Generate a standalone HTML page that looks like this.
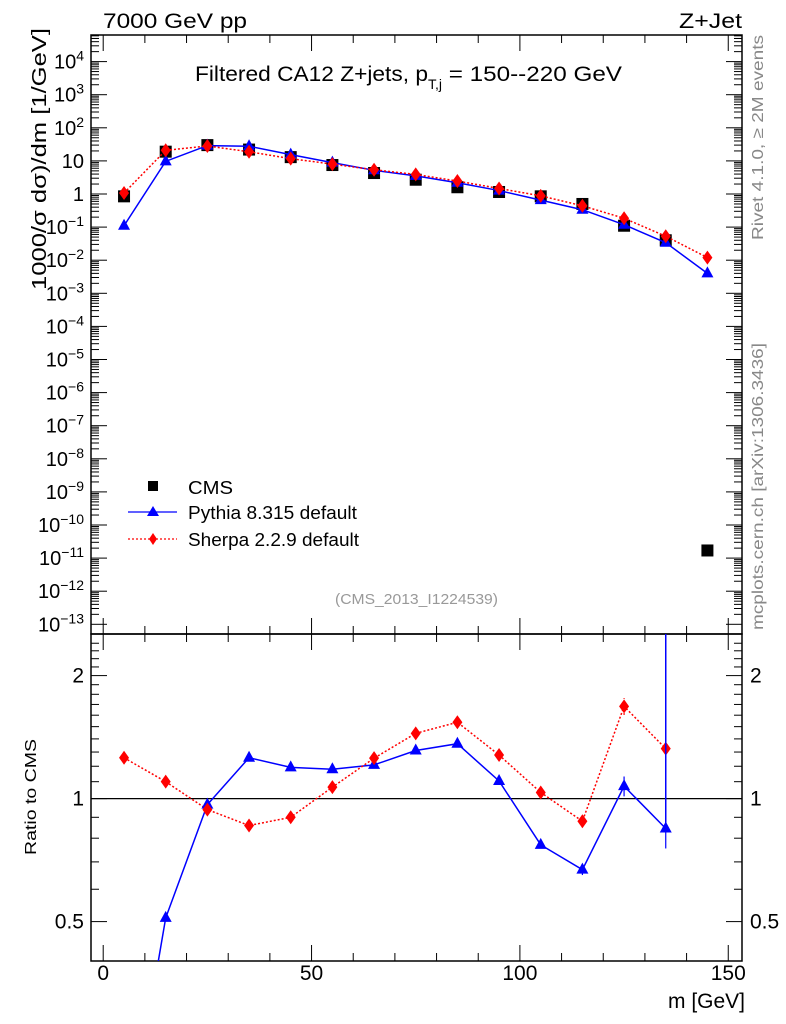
<!DOCTYPE html>
<html><head><meta charset="utf-8"><style>
body{margin:0;background:#fff;overflow:hidden;}
svg{display:block;font-family:"Liberation Sans",sans-serif;}
</style></head><body>
<svg id="c" width="786" height="1024" viewBox="0 0 786 1024" xmlns="http://www.w3.org/2000/svg">
<text x="103" y="28" font-size="21" textLength="144" lengthAdjust="spacingAndGlyphs">7000 GeV pp</text>
<text x="679" y="28" font-size="21" textLength="63" lengthAdjust="spacingAndGlyphs">Z+Jet</text>
<text x="195" y="81" font-size="21"><tspan textLength="233" lengthAdjust="spacingAndGlyphs">Filtered CA12 Z+jets, p</tspan><tspan font-size="14" dy="8">T,j</tspan><tspan dy="-8" textLength="180" lengthAdjust="spacingAndGlyphs"> = 150--220 GeV</tspan></text>
<text transform="translate(46,290) rotate(-90)" font-size="20" textLength="262" lengthAdjust="spacingAndGlyphs">1000/σ   dσ)/dm [1/GeV]</text>
<text transform="translate(763,240) rotate(-90)" font-size="16" fill="#888" textLength="205" lengthAdjust="spacingAndGlyphs">Rivet 4.1.0, ≥ 2M events</text>
<text transform="translate(763,630) rotate(-90)" font-size="16" fill="#888" textLength="287" lengthAdjust="spacingAndGlyphs">mcplots.cern.ch [arXiv:1306.3436]</text>
<text x="335" y="604" font-size="15" fill="#999" textLength="163" lengthAdjust="spacingAndGlyphs">(CMS_2013_I1224539)</text>
<text transform="translate(36,855) rotate(-90)" font-size="16" textLength="116" lengthAdjust="spacingAndGlyphs">Ratio to CMS</text>
<text x="668" y="1008" font-size="21" textLength="77" lengthAdjust="spacingAndGlyphs">m [GeV]</text>
<g>
<rect x="148" y="481" width="10" height="10" fill="#000"/>
<text x="188" y="494" font-size="18" textLength="45" lengthAdjust="spacingAndGlyphs">CMS</text>
<line x1="128" y1="512" x2="177" y2="512" stroke="#00f" stroke-width="1.3"/>
<polygon points="153,506 159,516 147,516" fill="#00f"/>
<text x="188" y="519" font-size="18" textLength="169" lengthAdjust="spacingAndGlyphs">Pythia 8.315 default</text>
<line x1="128" y1="539" x2="177" y2="539" stroke="#f00" stroke-width="1.3" stroke-dasharray="2,2"/>
<polygon points="153,533 157,539 153,545 149,539" fill="#f00"/>
<text x="188" y="546" font-size="18" textLength="171" lengthAdjust="spacingAndGlyphs">Sherpa 2.2.9 default</text>
</g>
<g id="g"></g>
</svg>
<script>
const mass=[5,15,25,35,45,55,65,75,85,95,105,115,125,135,145];
const cmsVals=[0.85,19,30,22,13,7.5,4.3,2.7,1.6,1.15,0.85,0.5,0.11,0.04,1.7e-11];
const pythiaVals=[0.11,9.7,29,27.7,15.5,8.85,5.2,3.54,2.18,1.27,0.655,0.335,0.118,0.0338,0.004];
const sherpaVals=[1.07,20.9,28.2,18.9,11.7,8.0,5.4,3.9,2.46,1.47,0.88,0.44,0.185,0.053,0.012];
const pythiaRatioErr=[0,0,0,0,0,0,0,0,0,0,0.01,0.02,0.06,0.09,0];
const sherpaRatioErr=[0,0,0,0,0,0,0,0,0,0,0,0.03,0.08,0.15,0];
const xTicks=[0,50,100,150];
const ratioTicks=[0.5,1,2];
const NS="http://www.w3.org/2000/svg";
const g=document.getElementById('g');
function mk(t,a,p){const e=document.createElementNS(NS,t);for(const k in a)e.setAttribute(k,a[k]);(p||g).appendChild(e);return e;}
const L=91,R=742,T=35,MB=634,RB=961;
const X=m=>103.2+m*4.167;
const Y=v=>194-Math.log10(v)*33.1;
const YR=r=>798.6-Math.log2(r)*123;
let f=mk('rect',{x:L,y:T,width:R-L,height:MB-T,fill:'none',stroke:'#000','stroke-width':1.5});

f=mk('rect',{x:L,y:MB,width:R-L,height:RB-MB,fill:'none',stroke:'#000','stroke-width':1.5});

for(let m=0;m<=150;m+=10){const big=m%50==0;const x=X(m);
 mk('line',{x1:x,y1:MB,x2:x,y2:MB-(big?16:8),stroke:'#000'});
 mk('line',{x1:x,y1:T,x2:x,y2:T+(big?16:8),stroke:'#000'});
 mk('line',{x1:x,y1:RB,x2:x,y2:RB-(big?16:8),stroke:'#000'});
 mk('line',{x1:x,y1:MB,x2:x,y2:MB+(big?16:8),stroke:'#000'});}
xTicks.forEach(m=>{const t=mk('text',{x:X(m),y:980,'font-size':21,'text-anchor':'middle'});t.textContent=m;
 });
for(let d=-13;d<=4;d++){const y=Y(Math.pow(10,d));
 mk('line',{x1:L,y1:y,x2:L+16,y2:y,stroke:'#000'});mk('line',{x1:R,y1:y,x2:R-16,y2:y,stroke:'#000'});
 for(let k=2;k<10;k++){const yy=Y(k*Math.pow(10,d));if(yy<T)continue;
  mk('line',{x1:L,y1:yy,x2:L+8,y2:yy,stroke:'#000'});mk('line',{x1:R,y1:yy,x2:R-8,y2:yy,stroke:'#000'});}
 const t=mk('text',{x:84,y:y+7,'font-size':20,'text-anchor':'end'});
 
 if(d==0)t.textContent='1';else if(d==1)t.textContent='10';
 else{t.textContent='10';const s=mk('tspan',{'font-size':14,dy:-8},t);s.textContent=(d<0?'−':'')+Math.abs(d);}}
{const yy=Y(5e4);mk('line',{x1:L,y1:yy,x2:L+8,y2:yy,stroke:'#000'});mk('line',{x1:R,y1:yy,x2:R-8,y2:yy,stroke:'#000'});}
for(let r=0.4;r<=2.5;r+=0.1){const y=YR(r);if(y<MB||y>RB)continue;const big=[0.5,1,2].some(v=>Math.abs(v-r)<1e-6);
 mk('line',{x1:L,y1:y,x2:L+(big?16:8),y2:y,stroke:'#000'});mk('line',{x1:R,y1:y,x2:R-(big?16:8),y2:y,stroke:'#000'});}
ratioTicks.forEach(r=>{const y=YR(r);
 let t=mk('text',{x:84,y:y+7,'font-size':21,'text-anchor':'end'});t.textContent=r;
 t=mk('text',{x:750,y:y+7,'font-size':21});t.textContent=r;});
mk('line',{x1:L,y1:YR(1),x2:R,y2:YR(1),stroke:'#000','stroke-width':1.2});
const defs=mk('defs',{});
let cp=mk('clipPath',{id:'cm'},defs);mk('rect',{x:L,y:T,width:R-L,height:MB-T},cp);
cp=mk('clipPath',{id:'cr'},defs);mk('rect',{x:L,y:MB,width:R-L,height:RB-MB},cp);
const gm=mk('g',{'clip-path':'url(#cm)'}),gr=mk('g',{'clip-path':'url(#cr)'});
function tri(p,x,y,n){const e=mk('polygon',{points:`${x},${y-7} ${x+6},${y+4} ${x-6},${y+4}`,fill:'#00f'},p);}
function dia(p,x,y,n){const e=mk('polygon',{points:`${x},${y-7} ${x+5},${y} ${x},${y+7} ${x-5},${y}`,fill:'#f00'},p);}
cmsVals.forEach((v,i)=>{const e=mk('rect',{x:X(mass[i])-6,y:Y(v)-6,width:12,height:12,fill:'#000'},gm);});
let pl=mk('polyline',{points:mass.map((m,i)=>X(m)+','+Y(pythiaVals[i])).join(' '),fill:'none',stroke:'#00f','stroke-width':1.5},gm);

pl=mk('polyline',{points:mass.map((m,i)=>X(m)+','+Y(sherpaVals[i])).join(' '),fill:'none',stroke:'#f00','stroke-width':1.5,'stroke-dasharray':'2,2'},gm);

mass.forEach((m,i)=>{tri(gm,X(m),Y(pythiaVals[i]),'pythia-point');dia(gm,X(m),Y(sherpaVals[i]),'sherpa-point');});
// ratio: only bins where ratio is finite and reasonable
const rp=pythiaVals.map((v,i)=>v/cmsVals[i]),rs=sherpaVals.map((v,i)=>v/cmsVals[i]);
const ok=i=>rp[i]<100&&rs[i]<100;
const idx=mass.map((m,i)=>i).filter(ok);
pl=mk('polyline',{points:idx.map(i=>X(mass[i])+','+YR(rp[i])).join(' '),fill:'none',stroke:'#00f','stroke-width':1.5},gr);

pl=mk('polyline',{points:idx.map(i=>X(mass[i])+','+YR(rs[i])).join(' '),fill:'none',stroke:'#f00','stroke-width':1.5,'stroke-dasharray':'2,2'},gr);

idx.forEach(i=>{const x=X(mass[i]);
 if(pythiaRatioErr[i]>0){mk('line',{x1:x,y1:YR(rp[i]-pythiaRatioErr[i]),x2:x,y2:YR(rp[i]+pythiaRatioErr[i]),stroke:'#00f','stroke-width':1.2},gr);}
 if(sherpaRatioErr[i]>0){mk('line',{x1:x,y1:YR(rs[i]-sherpaRatioErr[i]),x2:x,y2:YR(rs[i]+sherpaRatioErr[i]),stroke:'#f00','stroke-width':1.2,'stroke-dasharray':'2,2'},gr);}
 tri(gr,x,YR(rp[i]),'pythia-ratio-point');dia(gr,x,YR(rs[i]),'sherpa-ratio-point');});
// last valid pythia bin: upward error line to frame top
{const i=idx[idx.length-1];const e=mk('line',{x1:X(mass[i]),y1:YR(rp[i]),x2:X(mass[i]),y2:MB,stroke:'#00f','stroke-width':1.5},gr);
 }
</script>
</body></html>
